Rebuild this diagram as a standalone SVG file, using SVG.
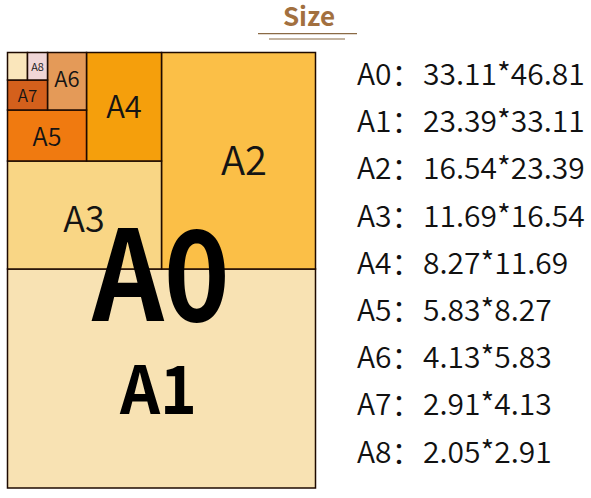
<svg xmlns="http://www.w3.org/2000/svg" width="591" height="498" viewBox="0 0 591 498">
<style>
.box{stroke:#1e0a00;stroke-width:1.5}
.lbl{font-family:"Noto Sans CJK SC","Noto Sans",sans-serif;font-weight:350;fill:#141414;text-anchor:middle}
.big{font-family:"Noto Sans CJK SC","Noto Sans",sans-serif;font-weight:700;fill:#000;text-anchor:middle}
.row{font-family:"Noto Sans CJK SC","Noto Sans",sans-serif;font-weight:350;font-size:30px;fill:#111}
</style>
<rect width="591" height="498" fill="#fff"/>
<g id="title">
<text x="309" y="26" font-family="'Noto Sans CJK SC','Noto Sans',sans-serif" font-weight="700" font-size="26" fill="#a2703f" text-anchor="middle">Size</text>
<line x1="258" y1="33.7" x2="357" y2="33.7" stroke="#8a6a45" stroke-width="1.2"/>
<line x1="269" y1="39" x2="345" y2="39" stroke="#8a6a45" stroke-width="1.2"/>
</g>
<g id="A1"><rect class="box" x="7.5" y="269" width="308" height="219" fill="#f8e2b3"/></g>
<g id="A2"><rect class="box" x="161.5" y="52.5" width="154" height="216.5" fill="#fbbf47"/>
<text class="lbl" x="244" y="175" font-size="40">A2</text></g>
<g id="A3"><rect class="box" x="7.5" y="161" width="154" height="108" fill="#f9d685"/>
<text class="lbl" x="84" y="232" font-size="36">A3</text></g>
<g id="A4"><rect class="box" x="86.5" y="52.5" width="75" height="108.5" fill="#f59f0c"/>
<text class="lbl" x="124" y="118" font-size="31">A4</text></g>
<g id="A5"><rect class="box" x="7.5" y="110" width="79" height="51" fill="#f07a10"/>
<text class="lbl" x="47" y="146" font-size="25">A5</text></g>
<g id="A6"><rect class="box" x="47.5" y="52.5" width="39" height="57.5" fill="#e49a58"/>
<text class="lbl" x="67" y="87" font-size="22">A6</text></g>
<g id="A7"><rect class="box" x="7.5" y="80" width="40" height="30" fill="#d4601c"/>
<text class="lbl" x="27.5" y="102" font-size="17">A7</text></g>
<g id="blank"><rect class="box" x="7.5" y="52.5" width="20" height="27.5" fill="#fae6bb"/></g>
<g id="A8"><rect class="box" x="27.5" y="52.5" width="20" height="27.5" fill="#f0d6d6"/>
<text class="lbl" x="37.5" y="71" font-size="11">A8</text></g>
<g id="A0label"><text class="big" x="161" y="321" font-size="125" textLength="138" lengthAdjust="spacingAndGlyphs">A0</text></g>
<g id="A1label"><text class="big" x="158.5" y="414" font-size="66" textLength="77" lengthAdjust="spacingAndGlyphs">A1</text></g>
<g id="list">
<text class="row" x="357" y="85">A0：<tspan x="423">33.11*46.81</tspan></text>
<text class="row" x="357" y="132.2">A1：<tspan x="423">23.39*33.11</tspan></text>
<text class="row" x="357" y="179.4">A2：<tspan x="423">16.54*23.39</tspan></text>
<text class="row" x="357" y="226.6">A3：<tspan x="423">11.69*16.54</tspan></text>
<text class="row" x="357" y="273.8">A4：<tspan x="423">8.27*11.69</tspan></text>
<text class="row" x="357" y="321">A5：<tspan x="423">5.83*8.27</tspan></text>
<text class="row" x="357" y="368.2">A6：<tspan x="423">4.13*5.83</tspan></text>
<text class="row" x="357" y="415.4">A7：<tspan x="423">2.91*4.13</tspan></text>
<text class="row" x="357" y="462.6">A8：<tspan x="423">2.05*2.91</tspan></text>
</g>
</svg>
